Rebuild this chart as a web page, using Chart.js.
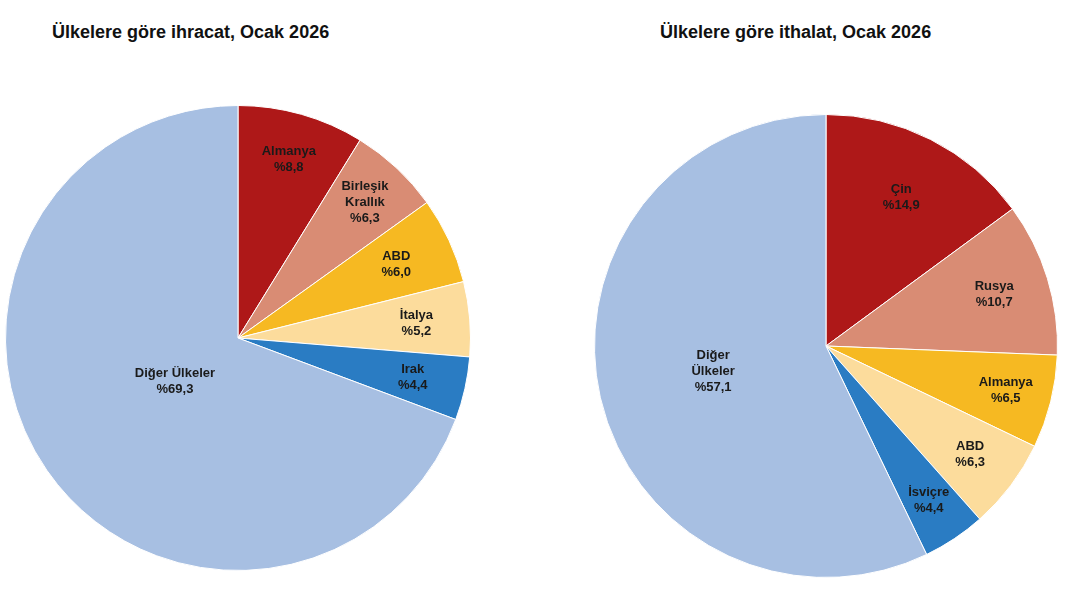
<!DOCTYPE html>
<html>
<head>
<meta charset="utf-8">
<script src="https://cdn.jsdelivr.net/npm/chart.js@4"></script>
<style>
  body { margin: 0; background: #fff; width: 1080px; height: 602px; position: relative; overflow: hidden; font-family: "Liberation Sans", Arial, sans-serif; }
  .title { position: absolute; top: 22px; font-weight: bold; font-size: 18px; color: #111; }
  .box { position: absolute; }
</style>
</head>
<body>
<div class="title" style="left:52px">Ülkelere göre ihracat, Ocak 2026</div>
<div class="title" style="left:660px">Ülkelere göre ithalat, Ocak 2026</div>
<div class="box" style="left:0;top:100px;width:476px;height:476px"><canvas id="exp"></canvas></div>
<div class="box" style="left:589px;top:109px;width:474px;height:474px"><canvas id="imp"></canvas></div>
<script>
// ihracat (export)
const exportLabels = [['Almanya'], ['Birleşik', 'Krallık'], ['ABD'], ['İtalya'], ['Irak'], ['Diğer Ülkeler']];
const exportValues = [8.8, 6.3, 6.0, 5.2, 4.4, 69.3];
// ithalat (import)
const importLabels = [['Çin'], ['Rusya'], ['Almanya'], ['ABD'], ['İsviçre'], ['Diğer', 'Ülkeler']];
const importValues = [14.9, 10.7, 6.5, 6.3, 4.4, 57.1];

const colors = ['#AE1818', '#D98C74', '#F6B922', '#FCDC9C', '#2A7CC3', '#A7BFE2'];

// label distance from centre as a fraction of radius
const labelPlugin = {
  id: 'sliceLabels',
  afterDatasetsDraw(chart, args, opts) {
    const ctx = chart.ctx;
    const meta = chart.getDatasetMeta(0);
    const ds = chart.data.datasets[0];
    ctx.save();
    ctx.font = 'bold 13px "Liberation Sans", Arial, sans-serif';
    ctx.fillStyle = '#1a1a1a';
    ctx.textAlign = 'center';
    ctx.textBaseline = 'middle';
    meta.data.forEach((arc, i) => {
      const p = arc.getProps(['x', 'y', 'startAngle', 'endAngle', 'outerRadius'], true);
      const mid = (p.startAngle + p.endAngle) / 2;
      const f = opts.frac[i];
      const cx = p.x + Math.cos(mid) * p.outerRadius * f;
      const cy = p.y + Math.sin(mid) * p.outerRadius * f;
      const lines = chart.data.labels[i].concat(['%' + ds.data[i].toFixed(1).replace('.', ',')]);
      const lh = 16;
      lines.forEach((t, k) => ctx.fillText(t, cx, cy + (k - (lines.length - 1) / 2) * lh));
    });
    ctx.restore();
  }
};

function makePie(id, labels, values, frac) {
  new Chart(document.getElementById(id), {
    type: 'pie',
    data: {
      labels: labels,
      datasets: [{ data: values, backgroundColor: colors, borderColor: '#fff', borderWidth: 1 }]
    },
    options: {
      responsive: true,
      maintainAspectRatio: false,
      animation: false,
      layout: { padding: 5 },
      plugins: {
        legend: { display: false },
        tooltip: { enabled: false },
        sliceLabels: { frac: frac }
      }
    },
    plugins: [labelPlugin]
  });
}

makePie('exp', exportLabels, exportValues, [0.8, 0.8, 0.75, 0.77, 0.77, 0.33]);
makePie('imp', importLabels, importValues, [0.72, 0.76, 0.8, 0.78, 0.8, 0.5]);
</script>
</body>
</html>
